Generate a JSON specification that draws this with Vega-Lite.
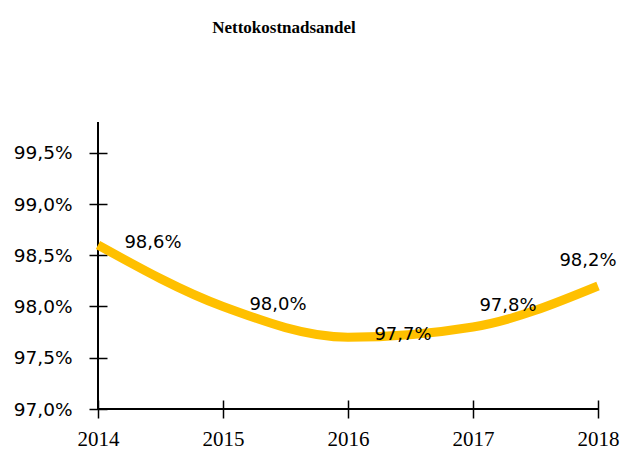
{
  "$schema": "https://vega.github.io/schema/vega-lite/v6.json",
  "autosize": "none",
  "padding": {"left": 98, "top": 122, "right": 25, "bottom": 43},
  "width": 500,
  "height": 287,
  "config": {
    "locale": {"number": {"decimal": ",", "thousands": " ", "grouping": [3], "currency": ["", " kr"]}},
    "view": {"stroke": null},
    "background": "white"
  },
  "title": {
    "text": "Nettokostnadsandel",
    "font": "Liberation Serif",
    "fontSize": 17,
    "fontWeight": "bold",
    "color": "#000000",
    "anchor": "middle",
    "frame": "group",
    "dx": -64,
    "baseline": "alphabetic",
    "offset": 71
  },
  "data": {"values": [
    {"year": 2014, "value": 0.986},
    {"year": 2015, "value": 0.980},
    {"year": 2016, "value": 0.977},
    {"year": 2017, "value": 0.978},
    {"year": 2018, "value": 0.982}
  ]},
  "encoding": {
    "x": {"field": "year", "type": "quantitative",
      "scale": {"domain": [2014, 2018], "nice": false, "zero": false},
      "axis": {"title": null, "values": [2014, 2015, 2016, 2017, 2018], "format": "d",
        "domain": false, "grid": false, "offset": -9, "tickSize": 18, "tickColor": "#000000", "tickWidth": 1.5,
        "labelFont": "Liberation Serif", "labelFontSize": 21, "labelColor": "#000000", "labelPadding": 10, "labelFlush": false}},
    "y": {"field": "value", "type": "quantitative",
      "scale": {"domain": [0.970, 0.998], "nice": false, "zero": false},
      "axis": {"title": null, "values": [0.970, 0.975, 0.980, 0.985, 0.990, 0.995], "format": ".1%",
        "domain": false, "grid": false, "offset": -9, "tickSize": 18, "tickColor": "#000000", "tickWidth": 1.5,
        "labelFont": "DejaVu Sans", "labelFontSize": 18.5, "labelColor": "#000000", "labelPadding": 17}}
  },
  "layer": [
    {"mark": {"type": "rule", "color": "#000000", "strokeWidth": 1.5}, "encoding": {"x": {"datum": 2014}, "y": null}},
    {"mark": {"type": "rule", "color": "#000000", "strokeWidth": 1.5}, "encoding": {"y": {"datum": 0.970}, "x": null}},
    {"mark": {"type": "line", "color": "#FFC000", "strokeWidth": 9, "interpolate": "monotone", "strokeCap": "butt"}},
    {"transform": [{"filter": "datum.year <= 2016"}],
     "mark": {"type": "text", "font": "DejaVu Sans", "fontSize": 18, "color": "#000000", "align": "center", "baseline": "middle", "dx": 55, "dy": -2},
     "encoding": {"text": {"field": "value", "type": "quantitative", "format": ".1%"}}},
    {"transform": [{"filter": "datum.year == 2017"}],
     "mark": {"type": "text", "font": "DejaVu Sans", "fontSize": 18, "color": "#000000", "align": "center", "baseline": "middle", "dx": 35, "dy": -21},
     "encoding": {"text": {"field": "value", "type": "quantitative", "format": ".1%"}}},
    {"transform": [{"filter": "datum.year == 2018"}],
     "mark": {"type": "text", "font": "DejaVu Sans", "fontSize": 18, "color": "#000000", "align": "center", "baseline": "middle", "dx": -10, "dy": -25},
     "encoding": {"text": {"field": "value", "type": "quantitative", "format": ".1%"}}}
  ]
}
